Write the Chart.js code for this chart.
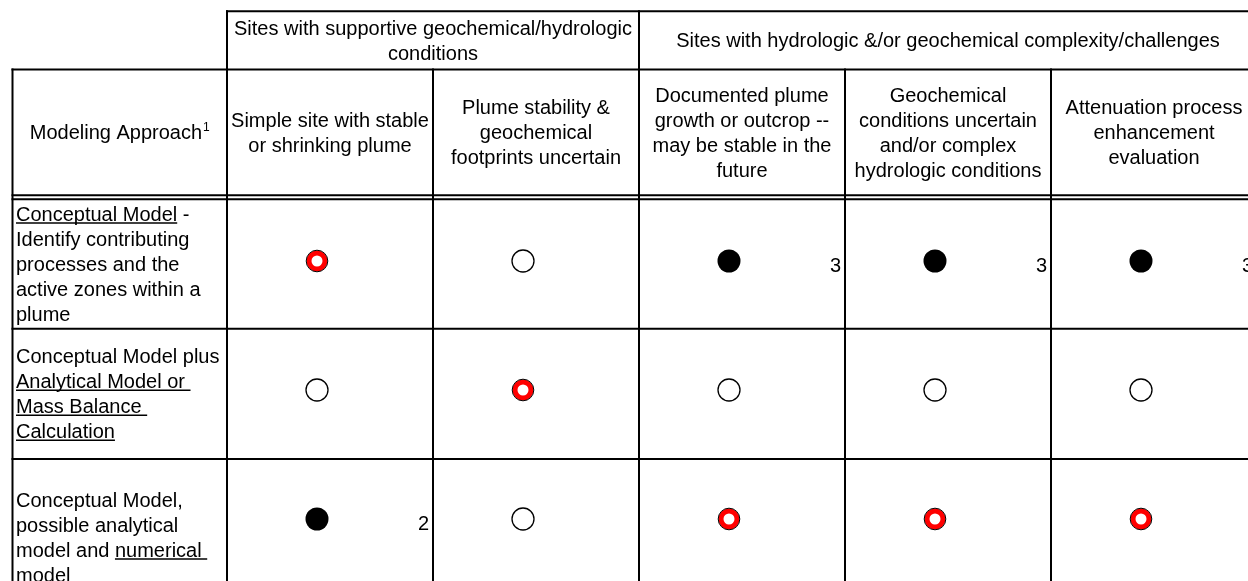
<!DOCTYPE html>
<html>
<head>
<meta charset="utf-8">
<script src="https://cdn.jsdelivr.net/npm/chart.js@4.4.1/dist/chart.umd.min.js"></script>
<style>
  html, body { margin: 0; padding: 0; background: #fff; }
  #wrap { width: 1248px; height: 581px; }
</style>
</head>
<body>
<div id="wrap"><canvas id="matrix"></canvas></div>
<script>
// top header: two site groups, each spanning some of the condition columns
const groupLabels = [
  ['Sites with supportive geochemical/hydrologic', 'conditions'],
  ['Sites with hydrologic &/or geochemical complexity/challenges']
];
const groupSpans = [[1, 2], [3, 5]];

// site condition columns (already wrapped like the original cells)
const siteColumns = [
  ['Simple site with stable', 'or shrinking plume'],
  ['Plume stability &', 'geochemical', 'footprints uncertain'],
  ['Documented plume', 'growth or outcrop --', 'may be stable in the', 'future'],
  ['Geochemical', 'conditions uncertain', 'and/or complex', 'hydrologic conditions'],
  ['Attenuation process', 'enhancement', 'evaluation']
];

// modelling approach rows, each line is a list of [text, underlined]
const approaches = [
  [[['Conceptual Model', true], [' -', false]],
   [['Identify contributing', false]],
   [['processes and the', false]],
   [['active zones within a', false]],
   [['plume', false]]],
  [[['Conceptual Model plus', false]],
   [['Analytical Model or ', true]],
   [['Mass Balance ', true]],
   [['Calculation', true]]],
  [[['Conceptual Model,', false]],
   [['possible analytical', false]],
   [['model and ', false], ['numerical ', true]],
   [['model', true]]]
];

// symbol per cell: rec = red ring, full = filled dot, open = open circle
const ratings = [
  ['rec', 'open', 'full', 'full', 'full'],
  ['open', 'rec', 'open', 'open', 'open'],
  ['full', 'open', 'rec', 'rec', 'rec']
];
const footnotes = [
  ['', '', '3', '3', '3'],
  ['', '', '', '', ''],
  ['2', '', '', '', '']
];

const FONT = '"Liberation Sans", Arial, sans-serif';

function cells(kind) {
  const pts = [];
  ratings.forEach((row, r) => row.forEach((v, c) => {
    if (v === kind) pts.push({ x: c + 1, y: r });
  }));
  return pts;
}

// table frame, in pixels
const frame = {
  top: 11.3, headMid: 69.5, dbl1: 195.3, dbl2: 199.3,
  rowEdges: [199.3, 328.7, 459, 616],
  left: 12.5
};

function hline(ctx, y, x0, x1) { ctx.beginPath(); ctx.moveTo(x0, y); ctx.lineTo(x1, y); ctx.stroke(); }
function vline(ctx, x, y0, y1) { ctx.beginPath(); ctx.moveTo(x, y0); ctx.lineTo(x, y1); ctx.stroke(); }

function centredLines(ctx, lines, cx, cy, step) {
  const y0 = cy - (lines.length - 1) * step / 2;
  ctx.textAlign = 'center';
  lines.forEach((t, i) => ctx.fillText(t, cx, y0 + i * step + 7));
}

const tablePlugin = {
  id: 'table',
  beforeDatasetsDraw(chart) {
    const ctx = chart.ctx;
    const xs = chart.scales.x;
    const colLeft = k => k === 0 ? frame.left : xs.getPixelForValue(k - 0.5) + 13;
    const W = chart.width, H = chart.height;
    ctx.save();
    ctx.strokeStyle = '#000';
    ctx.lineWidth = 2;
    hline(ctx, frame.top, colLeft(1) - 1, W);
    hline(ctx, frame.headMid, frame.left - 1, W);
    hline(ctx, frame.dbl1, frame.left - 1, W);
    hline(ctx, frame.dbl2, frame.left - 1, W);
    frame.rowEdges.slice(1).forEach(y => hline(ctx, y, frame.left - 1, W));
    vline(ctx, frame.left, frame.headMid - 1, H);
    for (let k = 1; k <= 6; k++) {
      const startsTop = groupSpans.some(s => s[0] === k) || k === 6;
      vline(ctx, colLeft(k), startsTop ? frame.top - 1 : frame.headMid - 1, H);
    }
    ctx.restore();
  },
  afterDatasetsDraw(chart) {
    const ctx = chart.ctx;
    const xs = chart.scales.x, ys = chart.scales.y;
    const colLeft = k => k === 0 ? frame.left : xs.getPixelForValue(k - 0.5) + 13;
    ctx.save();
    ctx.fillStyle = '#000';
    ctx.strokeStyle = '#000';
    ctx.font = '20px ' + FONT;
    ctx.textBaseline = 'alphabetic';

    // group headers
    groupLabels.forEach((lines, g) => {
      const cx = (colLeft(groupSpans[g][0]) + colLeft(groupSpans[g][1] + 1)) / 2;
      centredLines(ctx, lines, cx, (frame.top + frame.headMid) / 2, 25);
    });
    // column headers
    const headCy = (frame.headMid + frame.dbl1) / 2;
    siteColumns.forEach((lines, c) => {
      const cx = (colLeft(c + 1) + colLeft(c + 2)) / 2;
      centredLines(ctx, lines, cx, headCy, 25);
    });
    // corner cell with superscript
    const main = 'Modeling Approach';
    const wMain = ctx.measureText(main).width;
    ctx.font = '12px ' + FONT;
    const wSup = ctx.measureText('1').width;
    const cx0 = (frame.left + colLeft(1)) / 2;
    const sx = cx0 - (wMain + wSup + 1) / 2;
    ctx.textAlign = 'left';
    ctx.fillText('1', sx + wMain + 1, headCy - 1);
    ctx.font = '20px ' + FONT;
    ctx.fillText(main, sx, headCy + 7);

    // approach labels
    approaches.forEach((lines, r) => {
      const cy = (frame.rowEdges[r] + frame.rowEdges[r + 1]) / 2;
      const y0 = cy - (lines.length - 1) * 25 / 2;
      lines.forEach((segs, i) => {
        let x = 16;
        const base = y0 + i * 25 + 7;
        segs.forEach(([t, u]) => {
          const w = ctx.measureText(t).width;
          ctx.fillText(t, x, base);
          if (u) {
            ctx.lineWidth = 1.5;
            hline(ctx, base + 2, x, x + w);
          }
          x += w;
        });
      });
    });

    // footnote numbers
    ctx.textAlign = 'right';
    footnotes.forEach((row, r) => row.forEach((f, c) => {
      if (!f) return;
      ctx.fillText(f, colLeft(c + 2) - 4, ys.getPixelForValue(r) + 11);
    }));
    ctx.restore();
  }
};

new Chart(document.getElementById('matrix'), {
  type: 'scatter',
  data: {
    datasets: [
      { label: 'rec outline', data: cells('rec'), order: 0, pointRadius: 10.8, pointBorderWidth: 1,
        pointBorderColor: '#000', pointBackgroundColor: 'rgba(0,0,0,0)' },
      { label: 'rec', data: cells('rec'), order: 1, pointRadius: 8, pointBorderWidth: 5,
        pointBorderColor: '#ff0000', pointBackgroundColor: '#fff' },
      { label: 'full', data: cells('full'), order: 2, pointRadius: 11.5, pointBorderWidth: 0,
        pointBorderColor: '#000', pointBackgroundColor: '#000' },
      { label: 'open', data: cells('open'), order: 3, pointRadius: 11, pointBorderWidth: 1.3,
        pointBorderColor: '#000', pointBackgroundColor: '#fff' }
    ]
  },
  options: {
    responsive: true,
    maintainAspectRatio: false,
    animation: false,
    events: [],
    layout: { padding: 0, autoPadding: false },
    plugins: { legend: { display: false }, tooltip: { enabled: false } },
    scales: {
      x: { type: 'linear', display: false, min: -0.538835, max: 5.519417 },
      y: { type: 'linear', display: false, reverse: true, min: -2.023256, max: 2.480620 }
    },
    elements: { point: { pointStyle: 'circle', hoverRadius: 0 } }
  },
  plugins: [tablePlugin]
});
</script>
</body>
</html>
